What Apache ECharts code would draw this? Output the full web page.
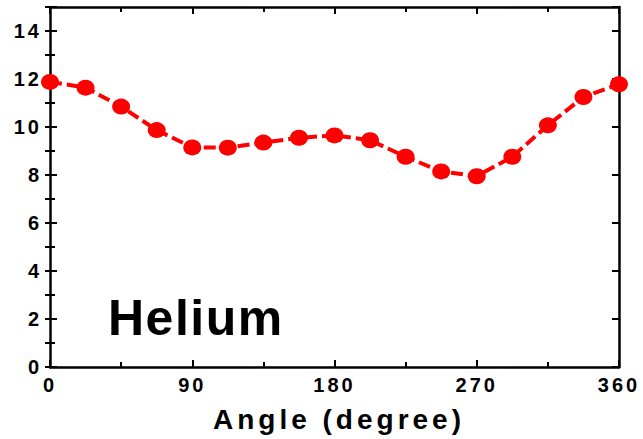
<!DOCTYPE html>
<html>
<head>
<meta charset="utf-8">
<script src="https://cdn.jsdelivr.net/npm/echarts@6/dist/echarts.min.js"></script>
<style>
  html, body { margin: 0; padding: 0; background: #fff; }
  #chart { width: 643px; height: 439px; }
  #chart svg text { letter-spacing: 3px; }
  #chart svg text[style*="28px"] { letter-spacing: 4px; }
  #chart svg text[style*="50px"] { letter-spacing: 1.5px; }
</style>
</head>
<body>
<div id="chart"></div>
<script>
// Data
const angles = [0, 22.5, 45, 67.5, 90, 112.5, 135, 157.5, 180, 202.5, 225, 247.5, 270, 292.5, 315, 337.5, 360];
const heliumValues = [11.88, 11.64, 10.85, 9.87, 9.15, 9.14, 9.35, 9.55, 9.65, 9.45, 8.76, 8.15, 7.95, 8.76, 10.07, 11.25, 11.78];
const xTicks = [0, 90, 180, 270, 360];
const yTicks = [0, 2, 4, 6, 8, 10, 12, 14];
const xTitle = 'Angle (degree)';
const annotation = 'Helium';

const FONT = '"Liberation Sans", Arial, Helvetica, sans-serif';
const seriesData = angles.map((a, i) => [a, heliumValues[i]]);

const chart = echarts.init(document.getElementById('chart'), null, { renderer: 'svg' });

const lineCommon = { show: true, onZero: false, lineStyle: { color: '#000', width: 2.5 } };

function xAxisDef(pos, labels) {
  return {
    type: 'value', position: pos, min: xTicks[0], max: xTicks[xTicks.length - 1], interval: xTicks[1] - xTicks[0],
    axisLine: lineCommon,
    axisTick: { show: true, inside: true, length: 7, lineStyle: { color: '#000', width: 2 } },
    minorTick: { show: true, splitNumber: 2, length: 5, lineStyle: { color: '#000', width: 2 } },
    splitLine: { show: false },
    axisLabel: labels ? { show: true, color: '#000', fontFamily: FONT, fontWeight: 'bold', fontSize: 20, margin: 8 } : { show: false },
    name: labels ? xTitle : '',
    nameLocation: 'middle', nameGap: 38,
    nameTextStyle: { color: '#000', fontFamily: FONT, fontWeight: 'bold', fontSize: 28, padding: [0, 0, 0, 9] }
  };
}

function yAxisDef(pos, major, labels) {
  return {
    type: 'value', position: pos, min: 0, max: 15, interval: major ? (yTicks[1] - yTicks[0]) : 1,
    axisLine: major ? lineCommon : { show: false },
    axisTick: { show: true, inside: true, length: major ? 7 : 5, lineStyle: { color: '#000', width: 2 } },
    splitLine: { show: false },
    axisLabel: labels ? {
      show: true, color: '#000', fontFamily: FONT, fontWeight: 'bold', fontSize: 20, margin: 8,
      formatter: v => (yTicks.indexOf(v) >= 0 ? String(v) : '')
    } : { show: false }
  };
}

chart.setOption({
  animation: false,
  backgroundColor: '#fff',
  grid: { left: 50, right: 24, top: 7, bottom: 72, containLabel: false, outerBoundsMode: 'none' },
  xAxis: [xAxisDef('bottom', true), xAxisDef('top', false)],
  yAxis: [
    yAxisDef('left', true, true),
    yAxisDef('left', false, false),
    yAxisDef('right', true, false),
    yAxisDef('right', false, false)
  ],
  series: [{
    type: 'line',
    xAxisIndex: 0, yAxisIndex: 0,
    data: seriesData,
    clip: false,
    z: 5,
    symbol: 'circle',
    symbolSize: [18, 16],
    itemStyle: { color: '#ff0000' },
    lineStyle: { color: '#ff0000', width: 4, type: [12, 5] }
  }],
  graphic: [{
    type: 'text',
    left: 108,
    top: 293,
    style: { text: annotation, fill: '#000', font: 'bold 50px ' + FONT }
  }]
});
</script>
</body>
</html>
